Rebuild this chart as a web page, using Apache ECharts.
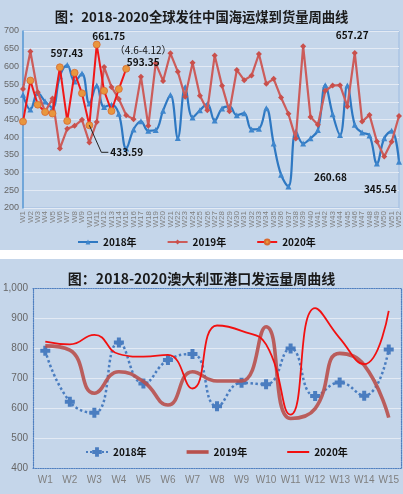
<!DOCTYPE html>
<html>
<head>
<meta charset="utf-8">
<script src="https://cdn.jsdelivr.net/npm/echarts@6/dist/echarts.min.js"></script>
<style>
    body {margin:0; background:#fff;}
    #chart-top {position:absolute; left:0; top:0; width:403px; height:250px; background:#c5d6ea;}
    #chart-bottom {position:absolute; left:0; top:259px; width:403px; height:235px; background:#c5d6ea;}
</style>
</head>
<body>
<div id="chart-top"></div>
<div id="chart-bottom"></div>
<script>
// 上图：全球发往中国海运煤到货量（周）
var topTitle = "图：2018-2020全球发往中国海运煤到货量周曲线";
var weeks52 = [];
for (var i = 1; i <= 52; i++) weeks52.push("W" + i);
var coal2018 = [520,478,525,501,483,572,604,557,580,495,546,485,492,466,368,422,445,418,420,475,
    519,398,542,456,476,494,447,481,487,462,468,422,424,482,382,294,260.68,416,382,397,
    420,547,465,406,546,435,413,405,326,397,418,331];
var coal2019 = [536,642,527,472,509,368,424,432,449,385,443,598,542,508,462,451,571,432,609,559,
    637,585,514,610,517,476,631,545,473,590,561,574,635,551,565,512,466,396,657.27,457,
    435,531,546,547,487,638,444,463,388,345.54,387,460];
var coal2020 = [444,560,492,471,467,597.43,446,582,524,433.59,661.75,531,474,536,593.35];

// 下图：澳大利亚港口发运量（周）
var bottomTitle = "图：2018-2020澳大利亚港口发运量周曲线";
var weeks15 = ["W1","W2","W3","W4","W5","W6","W7","W8","W9","W10","W11","W12","W13","W14","W15"];
var ship2018 = [791,621,584,818,682,760,780,606,684,679,798,640,685,641,795];
var ship2019 = [807,793,649,721,688,610,721,690,690,871,565,598,782,743,568];
var ship2020 = [821,812,844,780,771,777,665,875,857,812,578,933,833,746,924];

var cjk = "'Noto Sans CJK SC', sans-serif";
// 图例里只画线（上下留空白保持线细）
var barIcon = function(h){ return 'path://M0,0M0,12M0,' + (6 - h / 2) + 'h22v' + h + 'h-22z'; };

var topChart = echarts.init(document.getElementById('chart-top'));
var bottomChart = echarts.init(document.getElementById('chart-bottom'));

function initTop(){
    var option = {
        animation: false,
        title: {
            text: topTitle,
            left: 'center',
            top: 5,
            textStyle: {fontFamily: cjk, fontSize: 13.3, fontWeight: 'bold', color: '#1a1a1a'}
        },
        legend: {
            left: 72,
            top: 232,
            itemWidth: 20,
            itemHeight: 6,
            itemGap: 30,
            textStyle: {fontFamily: cjk, fontSize: 10, fontWeight: 'bold', color: '#111'},
            data: ['2018年', '2019年', '2020年']
        },
        grid: {
            left: 23, right: 4, top: 31, bottom: 42,
            show: true, borderColor: '#9dbbe0', borderWidth: 1, backgroundColor: 'transparent'
        },
        xAxis: {
            type: 'category',
            boundaryGap: false,
            data: weeks52,
            axisLine: {show: false},
            axisTick: {show: false},
            axisLabel: {interval: 0, rotate: 90, fontSize: 8, color: '#808080', margin: 3, fontFamily: 'Liberation Sans'}
        },
        yAxis: {
            type: 'value',
            min: 200, max: 700, interval: 50,
            axisLine: {show: true, lineStyle: {color: '#5b9bd5', width: 1.5}},
            axisTick: {show: false},
            axisLabel: {fontSize: 9, color: '#666', margin: 4, fontFamily: 'Liberation Sans'},
            splitLine: {lineStyle: {color: '#e3eaf4', width: 1}}
        },
        series: [
            {
                name: '2018年', type: 'line', data: coal2018, smooth: 0.4,
                symbol: 'triangle', symbolSize: 6,
                lineStyle: {color: '#2e78c2', width: 2.2},
                itemStyle: {color: '#3f86cc'},
                z: 2
            },
            {
                name: '2019年', type: 'line', data: coal2019,
                symbol: 'diamond', symbolSize: 6,
                lineStyle: {color: '#cc5c5a', width: 2.2},
                itemStyle: {color: '#c9504c'},
                z: 3
            },
            {
                name: '2020年', type: 'line', data: coal2020,
                symbol: 'circle', symbolSize: 7,
                lineStyle: {color: '#f01818', width: 2},
                itemStyle: {color: '#e8963e', borderColor: '#d86a30', borderWidth: 0.8},
                z: 4
            }
        ]
    };
    topChart.setOption(option);

    // 数据标注
    var notes = [
        {s: 2, i: 5, text: '597.43', dx: 7, dy: -14},
        {s: 2, i: 10, text: '661.75', dx: 12, dy: -8},
        {s: 2, i: 14, text: '593.35', dx: 17, dy: -7},
        {s: 2, i: 14, text: '（4.6-4.12）', dx: 17, dy: -19, normal: true},
        {s: 0, i: 36, text: '260.68', dx: 42, dy: -9},
        {s: 1, i: 49, text: '345.54', dx: -4, dy: 33},
        {s: 1, i: 38, text: '657.27', dx: 49, dy: -11}
    ];
    var lists = [coal2018, coal2019, coal2020];
    var els = [];
    for (var k = 0; k < notes.length; k++) {
        var n = notes[k];
        var p = topChart.convertToPixel({gridIndex: 0}, [n.i, lists[n.s][n.i]]);
        els.push({
            type: 'text', z: 100, x: p[0] + n.dx, y: p[1] + n.dy,
            style: {
                text: n.text, fill: '#111', align: 'center', verticalAlign: 'middle',
                font: (n.normal ? 'normal ' : 'bold ') + '10px ' + cjk
            }
        });
    }
    // 433.59 带引导线
    var q = topChart.convertToPixel({gridIndex: 0}, [9, coal2020[9]]);
    els.push({
        type: 'polyline', z: 100,
        shape: {points: [[q[0], q[1]], [q[0] + 12, q[1] + 27], [q[0] + 19, q[1] + 27]]},
        style: {stroke: '#222', lineWidth: 1, fill: null}
    });
    els.push({
        type: 'text', z: 100, x: q[0] + 21, y: q[1] + 27,
        style: {text: '433.59', fill: '#111', align: 'left', verticalAlign: 'middle', font: 'bold 10px ' + cjk}
    });
    topChart.setOption({graphic: els});
}

function initBottom(){
    var dotted = {show: true, lineStyle: {color: '#4f7fc0', width: 1.2, type: 'dotted'}};
    var option = {
        animation: false,
        title: {
            text: bottomTitle,
            left: 'center',
            top: 8,
            textStyle: {fontFamily: cjk, fontSize: 14, fontWeight: 'bold', color: '#1a1a1a'}
        },
        legend: {
            left: 80,
            top: 182,
            itemWidth: 22,
            itemHeight: 12,
            itemGap: 40,
            textStyle: {fontFamily: cjk, fontSize: 10, fontWeight: 'bold', color: '#111'},
            data: [
                {name: '2018年'},
                {name: '2019年', icon: barIcon(3.6)},
                {name: '2020年', icon: barIcon(2)}
            ]
        },
        grid: {left: 26, right: 2, top: 29, bottom: 26},
        xAxis: [
            {
                type: 'category', data: weeks15, boundaryGap: true,
                axisLine: dotted, axisTick: {show: false},
                axisLabel: {interval: 0, fontSize: 10, color: '#7f7f7f', margin: 7, fontFamily: 'Liberation Sans'}
            },
            {
                type: 'category', data: weeks15, position: 'top',
                axisLine: dotted, axisTick: {show: false}, axisLabel: {show: false}
            }
        ],
        yAxis: [
            {
                type: 'value', min: 400, max: 1000, interval: 100,
                axisLine: dotted, axisTick: {show: false},
                axisLabel: {fontSize: 10, color: '#666', margin: 5, fontFamily: 'Liberation Sans'},
                splitLine: {lineStyle: {color: '#e3eaf4', width: 1}}
            },
            {
                type: 'value', min: 400, max: 1000, interval: 100, position: 'right',
                axisLine: dotted, axisTick: {show: false}, axisLabel: {show: false}, splitLine: {show: false}
            }
        ],
        series: [
            {
                name: '2018年', type: 'line', data: ship2018, smooth: 0.5,
                symbol: 'path://M3,0h4v3h3v4h-3v3h-4v-3h-3v-4h3z', symbolSize: 10,
                lineStyle: {color: '#4a7dc0', width: 2.5, type: 'dotted'},
                itemStyle: {color: '#4a7dc0'},
                z: 2
            },
            {
                name: '2019年', type: 'line', data: ship2019, smooth: 0.5,
                showSymbol: false,
                lineStyle: {color: '#b8504c', width: 3.6, opacity: 0.9},
                itemStyle: {color: '#b8504c'},
                z: 3
            },
            {
                name: '2020年', type: 'line', data: ship2020, smooth: 0.5,
                showSymbol: false,
                lineStyle: {color: '#f21010', width: 1.8},
                itemStyle: {color: '#f21010'},
                z: 4
            }
        ]
    };
    bottomChart.setOption(option);
}

initTop();
initBottom();
</script>
</body>
</html>
